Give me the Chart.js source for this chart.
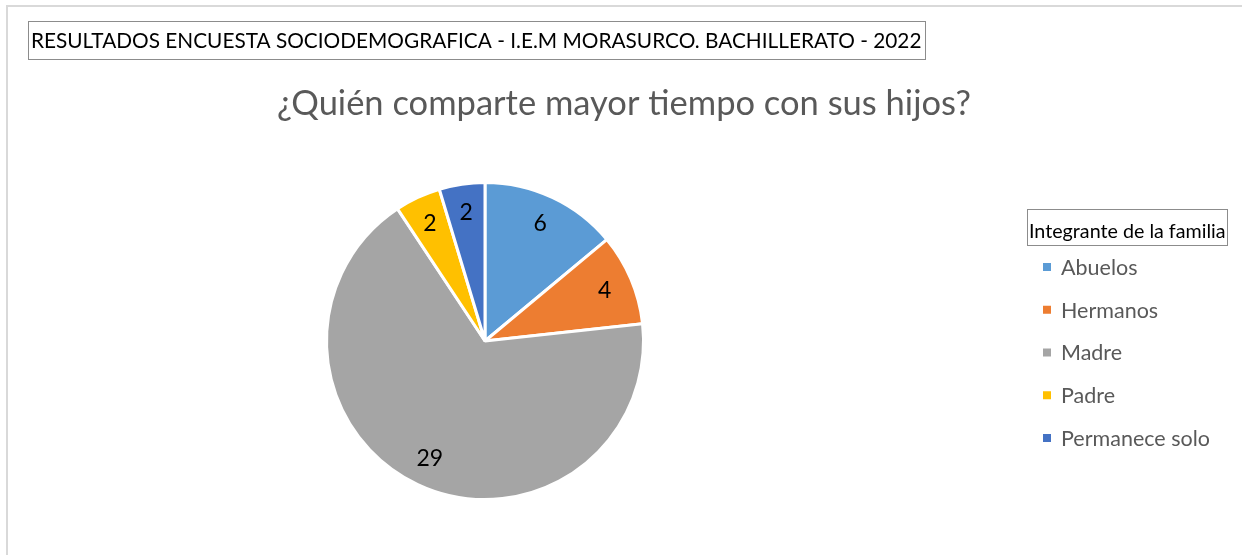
<!DOCTYPE html>
<html>
<head>
<meta charset="utf-8">
<script src="https://cdn.jsdelivr.net/npm/chart.js@4"></script>
<style>
  html, body { margin: 0; padding: 0; background: #fff; }
  #wrap { position: relative; width: 1242px; height: 555px; }
</style>
</head>
<body>
<div id="wrap"><canvas id="encuestaChart" width="1242" height="555"></canvas></div>
<script>
const categorias = ['Abuelos', 'Hermanos', 'Madre', 'Padre', 'Permanece solo'];
const valores = [6, 4, 29, 2, 2];
const colores = ['#5B9BD5', '#ED7D31', '#A5A5A5', '#FFC000', '#4472C4'];
const encabezado = 'RESULTADOS ENCUESTA SOCIODEMOGRAFICA - I.E.M MORASURCO. BACHILLERATO - 2022';
const titulo = '¿Quién comparte mayor tiempo con sus hijos?';
const tituloLeyenda = 'Integrante de la familia';

const fuente = 'Lato, "Open Sans", sans-serif';

// marco, encabezado, titulo y leyenda
const extras = {
    id: 'extras',
    beforeDraw(chart) {
        const c = chart.ctx;
        c.save();
        c.strokeStyle = '#D9D9D9';
        c.lineWidth = 2;
        c.beginPath();
        c.moveTo(7, 560);
        c.lineTo(7, 6);
        c.lineTo(1250, 6);
        c.stroke();
        c.restore();
    },
    afterDraw(chart) {
        const c = chart.ctx;
        c.save();
        // encabezado
        c.strokeStyle = '#8C8C8C';
        c.lineWidth = 1;
        c.strokeRect(28.5, 21.5, 897, 38);
        c.fillStyle = '#000';
        c.font = '20.8px ' + fuente;
        c.textBaseline = 'alphabetic';
        c.textAlign = 'left';
        c.fillText(encabezado, 31, 48);

        // titulo
        c.fillStyle = '#595959';
        c.font = '34.5px ' + fuente;
        c.textAlign = 'center';
        c.fillText(titulo, 624, 115);

        // leyenda
        c.strokeStyle = '#8C8C8C';
        c.strokeRect(1027.5, 209.5, 200, 36);
        c.fillStyle = '#000';
        c.font = '19.7px ' + fuente;
        c.textAlign = 'left';
        c.fillText(tituloLeyenda, 1029, 238);

        c.font = '21.5px ' + fuente;
        categorias.forEach((cat, i) => {
            const y = 267 + i * 42.75;
            c.fillStyle = colores[i];
            c.fillRect(1043, y - 4, 8, 8);
            c.fillStyle = '#595959';
            c.textBaseline = 'middle';
            c.fillText(cat, 1061, y + 1);
        });

        // etiquetas de datos
        const meta = chart.getDatasetMeta(0);
        c.fillStyle = '#000';
        c.font = '23px ' + fuente;
        c.textAlign = 'center';
        c.textBaseline = 'middle';
        meta.data.forEach((arc, i) => {
            const p = arc.getProps(['x', 'y', 'startAngle', 'endAngle', 'outerRadius'], true);
            const mid = (p.startAngle + p.endAngle) / 2;
            const r = p.outerRadius * 0.82;
            c.fillText(String(valores[i]), p.x + Math.cos(mid) * r, p.y + Math.sin(mid) * r);
        });
        c.restore();
    }
};

const ctx = document.getElementById('encuestaChart').getContext('2d');
const encuestaChart = new Chart(ctx, {
    type: 'pie',
    data: {
        labels: categorias,
        datasets: [{
            data: valores,
            backgroundColor: colores,
            borderColor: '#FFFFFF',
            borderWidth: 3
        }]
    },
    options: {
        responsive: false,
        animation: false,
        layout: {
            padding: { left: 325, right: 597, top: 181, bottom: 54 }
        },
        plugins: {
            legend: { display: false },
            tooltip: { enabled: false }
        }
    },
    plugins: [extras]
});
</script>
</body>
</html>
